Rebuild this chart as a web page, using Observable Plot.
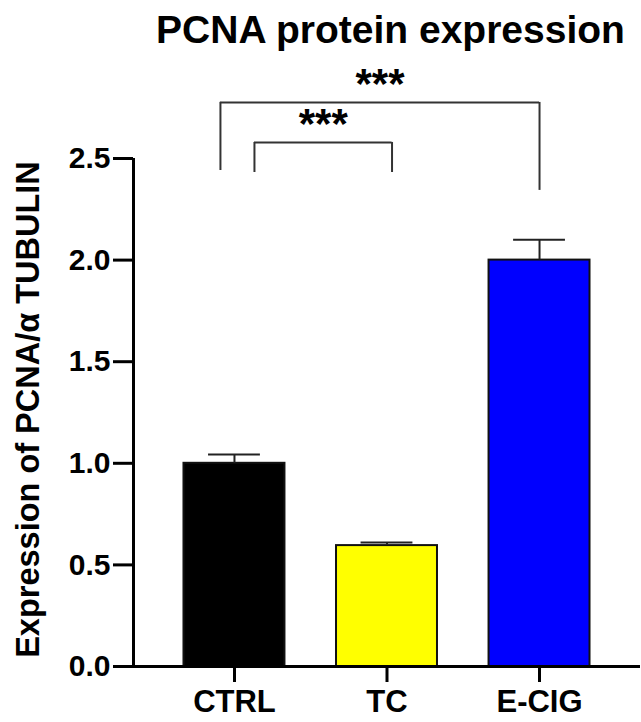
<!DOCTYPE html>
<html>
<head>
<meta charset="utf-8">
<script src="https://cdn.jsdelivr.net/npm/d3@7"></script>
<script src="https://cdn.jsdelivr.net/npm/@observablehq/plot@0.6"></script>
<style>
  html, body { margin: 0; padding: 0; background: #fff; }
  body { width: 641px; height: 722px; position: relative; overflow: hidden;
         font-family: "Liberation Sans", Arial, Helvetica, sans-serif; }
  #title { position: absolute; left: 140px; width: 501px; top: 10px; text-align: center;
           font-size: 39px; font-weight: bold; line-height: 39px; color: #000; }
  #chart { position: absolute; left: 0; top: 60px; }
</style>
</head>
<body>
<div id="title">PCNA protein expression</div>
<div id="chart"></div>
<script>
// ---- data ----
const groups = ["CTRL", "TC", "E-CIG"];
const means = [1.0, 0.595, 2.0];
const errors = [0.043, 0.015, 0.10];
const barColors = ["#000000", "#ffff00", "#0000ff"];
const yTicks = [0, 0.5, 1.0, 1.5, 2.0, 2.5];
const yLabel = "Expression of PCNA/\u03b1 TUBULIN";
// significance brackets (x in group-index units, y in data units)
const sigLabels = ["***", "***"];
const sigX1 = [-0.092, 0.131];
const sigX2 = [2.0, 1.033];
const sigTop = [2.776, 2.579];
const sigLeftEnd = [2.441, 2.431];
const sigRightEnd = [2.343, 2.431];

const bars = groups.map((g, i) => ({i, group: g, mean: means[i], err: errors[i], color: barColors[i]}));
const sig = sigLabels.map((s, k) => ({label: s, x1: sigX1[k], x2: sigX2[k], top: sigTop[k], l: sigLeftEnd[k], r: sigRightEnd[k]}));

const font = '"Liberation Sans", Arial, Helvetica, sans-serif';
const xMin = -0.662, xMax = 2.662;
const half = 0.331, capHalf = 0.17;

const chart = Plot.plot({
  width: 641,
  height: 662,
  marginLeft: 133,
  marginRight: 1,
  marginTop: 98,
  marginBottom: 56,
  x: {domain: [xMin, xMax], axis: null},
  y: {domain: [0, 2.5], axis: null},
  color: {type: "identity"},
  style: {fontFamily: font, overflow: "visible", background: "#fff"},
  marks: [
    Plot.rectY(bars, {x1: d => d.i - half, x2: d => d.i + half, y1: 0, y2: "mean",
      fill: "color", stroke: "#111", strokeWidth: 2}),
    // error bars
    Plot.ruleX(bars, {x: "i", y1: "mean", y2: d => d.mean + d.err, stroke: "#222", strokeWidth: 2}),
    Plot.ruleY(bars, {y: d => d.mean + d.err, x1: d => d.i - capHalf, x2: d => d.i + capHalf, stroke: "#222", strokeWidth: 2}),
    // axes lines
    Plot.ruleX([xMin], {y1: 0, y2: 2.5, stroke: "#000", strokeWidth: 3}),
    Plot.ruleY([0], {x1: xMin, x2: xMax, stroke: "#000", strokeWidth: 3}),
    Plot.axisY({ticks: yTicks, tickSize: 20, tickPadding: 3, strokeWidth: 3, stroke: "#000",
      tickFormat: d3.format(".1f"), fontSize: 30, fontWeight: "bold", fill: "#000", label: null}),
    Plot.axisX({ticks: [0, 1, 2], tickFormat: i => groups[i], tickSize: 16, tickPadding: 7,
      strokeWidth: 3, stroke: "#000", fontSize: 31, fontWeight: "bold", fill: "#000", label: null}),
    // y label
    Plot.text([yLabel], {frameAnchor: "left", dx: -95, dy: -3, rotate: -90, textAnchor: "middle",
      lineAnchor: "bottom", fontSize: 32.5, fontWeight: "bold", fill: "#000"}),
    // significance brackets
    Plot.ruleX(sig, {x: "x1", y1: "l", y2: "top", stroke: "#333", strokeWidth: 2}),
    Plot.ruleX(sig, {x: "x2", y1: "r", y2: "top", stroke: "#333", strokeWidth: 2}),
    Plot.ruleY(sig, {y: "top", x1: "x1", x2: "x2", stroke: "#333", strokeWidth: 2}),
    Plot.text(sig, {x: d => (d.x1 + d.x2) / 2, y: "top", text: "label", dy: -4, lineAnchor: "bottom",
      fontSize: 42, fontWeight: "bold", fill: "#000"})
  ]
});
document.getElementById("chart").appendChild(chart);
</script>
</body>
</html>
